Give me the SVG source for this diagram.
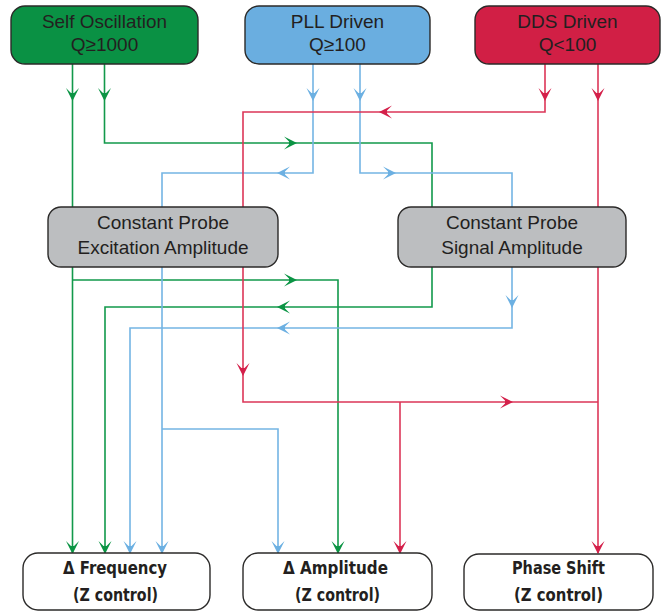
<svg xmlns="http://www.w3.org/2000/svg" xmlns:xlink="http://www.w3.org/1999/xlink" width="669" height="612" viewBox="0 0 669 612">
<style>
.box{stroke:#2b2a29;stroke-width:1.4}
.src{font-family:"Liberation Sans",Arial,sans-serif;font-size:19px;fill:#231f20;text-anchor:middle}
.mid{font-family:"Liberation Sans",Arial,sans-serif;font-size:19px;fill:#231f20;text-anchor:middle}
.out{font-family:"DejaVu Sans Condensed","DejaVu Sans",sans-serif;font-weight:bold;font-size:18px;fill:#231f20;text-anchor:middle}
.g{stroke:#12994b;fill:none;stroke-width:1.6}
.b{stroke:#74b5e4;fill:none;stroke-width:1.6}
.r{stroke:#dc3658;fill:none;stroke-width:1.6}
.ga{fill:#0b9444}
.ba{fill:#6cb0e2}
.ra{fill:#d4204a}
</style>
<defs>
<path id="ah" d="M1,0 L-12,-6.5 L-7,-1.5 L-7,1.5 L-12,6.5 Z"/>
</defs>
<rect width="669" height="612" fill="#ffffff"/>
<g id="connectors">
<polyline class="g" points="72.5,64 72.5,553"/>
<polyline class="g" points="72.5,280 338,280 338,553"/>
<polyline class="g" points="104.5,64 104.5,143 432,143 432,207"/>
<polyline class="g" points="432,267 432,307 105,307 105,553"/>
<polyline class="b" points="313,64 313,173 162,173 162,553"/>
<polyline class="b" points="162,429 278,429 278,553"/>
<polyline class="b" points="360,64 360,173 512,173 512,207"/>
<polyline class="b" points="512,267 512,328 130,328 130,553"/>
<polyline class="r" points="545,64 545,112 243,112 243,402 598,402"/>
<polyline class="r" points="400,402 400,553"/>
<polyline class="r" points="598,64 598,553"/>
<use xlink:href="#ah" class="ga" transform="translate(72.5,100) rotate(90)"/>
<use xlink:href="#ah" class="ga" transform="translate(104.5,100) rotate(90)"/>
<use xlink:href="#ah" class="ba" transform="translate(313,100) rotate(90)"/>
<use xlink:href="#ah" class="ba" transform="translate(360,100) rotate(90)"/>
<use xlink:href="#ah" class="ra" transform="translate(545,100) rotate(90)"/>
<use xlink:href="#ah" class="ra" transform="translate(598,100) rotate(90)"/>
<use xlink:href="#ah" class="ra" transform="translate(380,112) rotate(180)"/>
<use xlink:href="#ah" class="ga" transform="translate(296,143)"/>
<use xlink:href="#ah" class="ba" transform="translate(278,173) rotate(180)"/>
<use xlink:href="#ah" class="ba" transform="translate(395,173)"/>
<use xlink:href="#ah" class="ga" transform="translate(296,280)"/>
<use xlink:href="#ah" class="ga" transform="translate(278,307) rotate(180)"/>
<use xlink:href="#ah" class="ba" transform="translate(512,307) rotate(90)"/>
<use xlink:href="#ah" class="ba" transform="translate(278,328) rotate(180)"/>
<use xlink:href="#ah" class="ra" transform="translate(243,375) rotate(90)"/>
<use xlink:href="#ah" class="ra" transform="translate(512,402)"/>
<use xlink:href="#ah" class="ga" transform="translate(72.5,553) rotate(90)"/>
<use xlink:href="#ah" class="ga" transform="translate(105,553) rotate(90)"/>
<use xlink:href="#ah" class="ba" transform="translate(130,553) rotate(90)"/>
<use xlink:href="#ah" class="ba" transform="translate(162,553) rotate(90)"/>
<use xlink:href="#ah" class="ba" transform="translate(278,553) rotate(90)"/>
<use xlink:href="#ah" class="ga" transform="translate(338,553) rotate(90)"/>
<use xlink:href="#ah" class="ra" transform="translate(400,553) rotate(90)"/>
<use xlink:href="#ah" class="ra" transform="translate(598,553) rotate(90)"/>
</g>
<g id="self-oscillation">
<rect class="box" x="11" y="6" width="187" height="58" rx="14" fill="#0a9144"/>
<text class="src" x="104.5" y="28" textLength="125" lengthAdjust="spacingAndGlyphs">Self Oscillation</text>
<text class="src" x="104.5" y="51">Q≥1000</text>
</g>
<g id="pll-driven">
<rect class="box" x="245" y="6" width="185" height="58" rx="14" fill="#6aaee0"/>
<text class="src" x="337.5" y="28">PLL Driven</text>
<text class="src" x="337.5" y="51">Q≥100</text>
</g>
<g id="dds-driven">
<rect class="box" x="475" y="6" width="185" height="58" rx="14" fill="#d11f45"/>
<text class="src" x="567.5" y="28">DDS Driven</text>
<text class="src" x="567.5" y="51">Q&lt;100</text>
</g>
<g id="cp-excitation">
<rect class="box" x="48" y="207" width="230" height="60" rx="13" fill="#bcbec0"/>
<text class="mid" x="163" y="229">Constant Probe</text>
<text class="mid" x="163" y="254">Excitation Amplitude</text>
</g>
<g id="cp-signal">
<rect class="box" x="398" y="207" width="228" height="60" rx="13" fill="#bcbec0"/>
<text class="mid" x="512" y="229">Constant Probe</text>
<text class="mid" x="512" y="254">Signal Amplitude</text>
</g>
<g id="delta-frequency">
<rect class="box" x="23" y="553" width="187" height="57" rx="15" fill="#ffffff"/>
<text class="out" x="115" y="574" textLength="104" lengthAdjust="spacingAndGlyphs">Δ Frequency</text>
<text class="out" x="115.5" y="601" textLength="85" lengthAdjust="spacingAndGlyphs">(Z control)</text>
</g>
<g id="delta-amplitude">
<rect class="box" x="243" y="553" width="189" height="57" rx="15" fill="#ffffff"/>
<text class="out" x="335.5" y="574" textLength="105" lengthAdjust="spacingAndGlyphs">Δ Amplitude</text>
<text class="out" x="337.5" y="601" textLength="85" lengthAdjust="spacingAndGlyphs">(Z control)</text>
</g>
<g id="phase-shift">
<rect class="box" x="464" y="554" width="189" height="56" rx="15" fill="#ffffff"/>
<text class="out" x="558.5" y="574" textLength="93" lengthAdjust="spacingAndGlyphs">Phase Shift</text>
<text class="out" x="558.5" y="601" textLength="89" lengthAdjust="spacingAndGlyphs">(Z control)</text>
</g>
</svg>
